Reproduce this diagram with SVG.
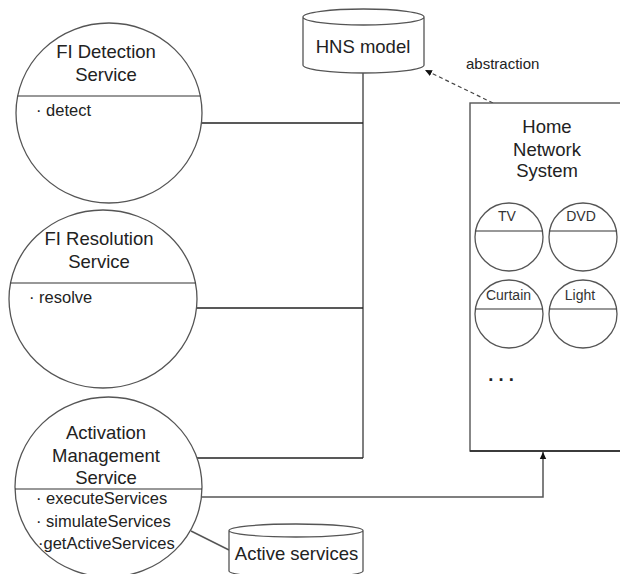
<svg xmlns="http://www.w3.org/2000/svg" width="620" height="574" viewBox="0 0 620 574">
  <style>
    .shape { fill: #fff; stroke: #555; stroke-width: 1.3; }
    .div { stroke: #333; stroke-width: 1.2; fill: none; }
    .wire { stroke: #222; stroke-width: 1.3; fill: none; }
    .wire-v { stroke: #555; stroke-width: 1.5; fill: none; }
    .dash { stroke: #444; stroke-width: 1.2; fill: none; stroke-dasharray: 4 3; }
    text { font-family: "Liberation Sans", Arial, sans-serif; fill: #222; }
    .title { font-size: 18.5px; text-anchor: middle; }
    .op { font-size: 16.5px; }
    .dev { font-size: 14px; text-anchor: middle; fill: #333; }
    .note { font-size: 15px; }
  </style>
  <defs>
    <marker id="arrow" markerWidth="8" markerHeight="8" refX="7" refY="4" orient="auto" markerUnits="userSpaceOnUse">
      <path d="M0,0.8 L7,4 L0,7.2 Z" fill="#111"/>
    </marker>
  </defs>

  <rect width="620" height="574" fill="#fff"/>

  <!-- connectors -->
  <g id="connectors">
    <line class="wire-v" x1="363" y1="73" x2="363" y2="458"/>
    <line class="wire" x1="201.4" y1="123" x2="363" y2="123"/>
    <line class="wire" x1="196.5" y1="308" x2="363" y2="308"/>
    <line class="wire" x1="197" y1="458" x2="363" y2="458"/>
    <polyline class="wire-v" points="201.4,497 543,497 543,452" marker-end="url(#arrow)"/>
    <line class="wire-v" x1="191" y1="531" x2="229" y2="550"/>
    <line class="dash" x1="493" y1="103" x2="425" y2="70" marker-end="url(#arrow)"/>
    <text class="note" x="466" y="69">abstraction</text>
  </g>

  <!-- FI Detection Service -->
  <g id="fi-detection">
    <ellipse class="shape" cx="109" cy="113" rx="93" ry="90"/>
    <line class="div" x1="17.7" y1="96" x2="200.3" y2="96"/>
    <text class="title" x="106" y="58">FI Detection</text>
    <text class="title" x="106" y="81">Service</text>
    <text class="op" x="36" y="116">· detect</text>
  </g>

  <!-- FI Resolution Service -->
  <g id="fi-resolution">
    <ellipse class="shape" cx="103" cy="299" rx="94" ry="89"/>
    <line class="div" x1="10.5" y1="283" x2="195.5" y2="283"/>
    <text class="title" x="99" y="245">FI Resolution</text>
    <text class="title" x="99" y="268">Service</text>
    <text class="op" x="29" y="303">· resolve</text>
  </g>

  <!-- Activation Management Service -->
  <g id="activation-management">
    <ellipse class="shape" cx="108.5" cy="487" rx="93.5" ry="90"/>
    <line class="div" x1="15" y1="489" x2="202" y2="489"/>
    <text class="title" x="106" y="439">Activation</text>
    <text class="title" x="106" y="462">Management</text>
    <text class="title" x="106" y="484">Service</text>
    <text class="op" x="36" y="504">· executeServices</text>
    <text class="op" x="36" y="527">· simulateServices</text>
    <text class="op" x="38" y="549">·getActiveServices</text>
  </g>

  <!-- HNS model store -->
  <g id="hns-model">
    <path class="shape" d="M303,17 V65 A60.5,8 0 0 0 424,65 V17 A60.5,8 0 0 0 303,17 A60.5,8 0 0 0 424,17"/>
    <text class="title" x="363" y="53">HNS model</text>
  </g>

  <!-- Active services store -->
  <g id="active-services">
    <path class="shape" d="M229,530.5 V571 A67,6.5 0 0 0 363,571 V530.5 A67,6.5 0 0 0 229,530.5 A67,6.5 0 0 0 363,530.5"/>
    <text class="title" x="296.5" y="560">Active services</text>
  </g>

  <!-- Home Network System -->
  <g id="home-network-system">
    <rect x="470" y="103" width="170" height="348" fill="#fff" stroke="#555" stroke-width="1.4"/>
    <line class="wire" x1="470" y1="451" x2="620" y2="451"/>
    <text class="title" x="547" y="133">Home</text>
    <text class="title" x="547" y="156">Network</text>
    <text class="title" x="547" y="177">System</text>
    <text class="title" x="501" y="381" font-weight="bold">. . .</text>
  </g>

  <g id="tv">
    <circle class="shape" cx="509" cy="237" r="34" stroke="#333"/>
    <line class="div" x1="475.5" y1="231" x2="542.5" y2="231"/>
    <text class="dev" x="507" y="221">TV</text>
  </g>
  <g id="dvd">
    <circle class="shape" cx="583" cy="237" r="34" stroke="#333"/>
    <line class="div" x1="549.5" y1="231" x2="616.5" y2="231"/>
    <text class="dev" x="581" y="221">DVD</text>
  </g>
  <g id="curtain">
    <circle class="shape" cx="509" cy="314" r="34" stroke="#333"/>
    <line class="div" x1="475.4" y1="309" x2="542.6" y2="309"/>
    <text class="dev" x="508.5" y="300">Curtain</text>
  </g>
  <g id="light">
    <circle class="shape" cx="583" cy="314" r="34" stroke="#333"/>
    <line class="div" x1="549.4" y1="309" x2="616.6" y2="309"/>
    <text class="dev" x="580" y="300">Light</text>
  </g>
</svg>
